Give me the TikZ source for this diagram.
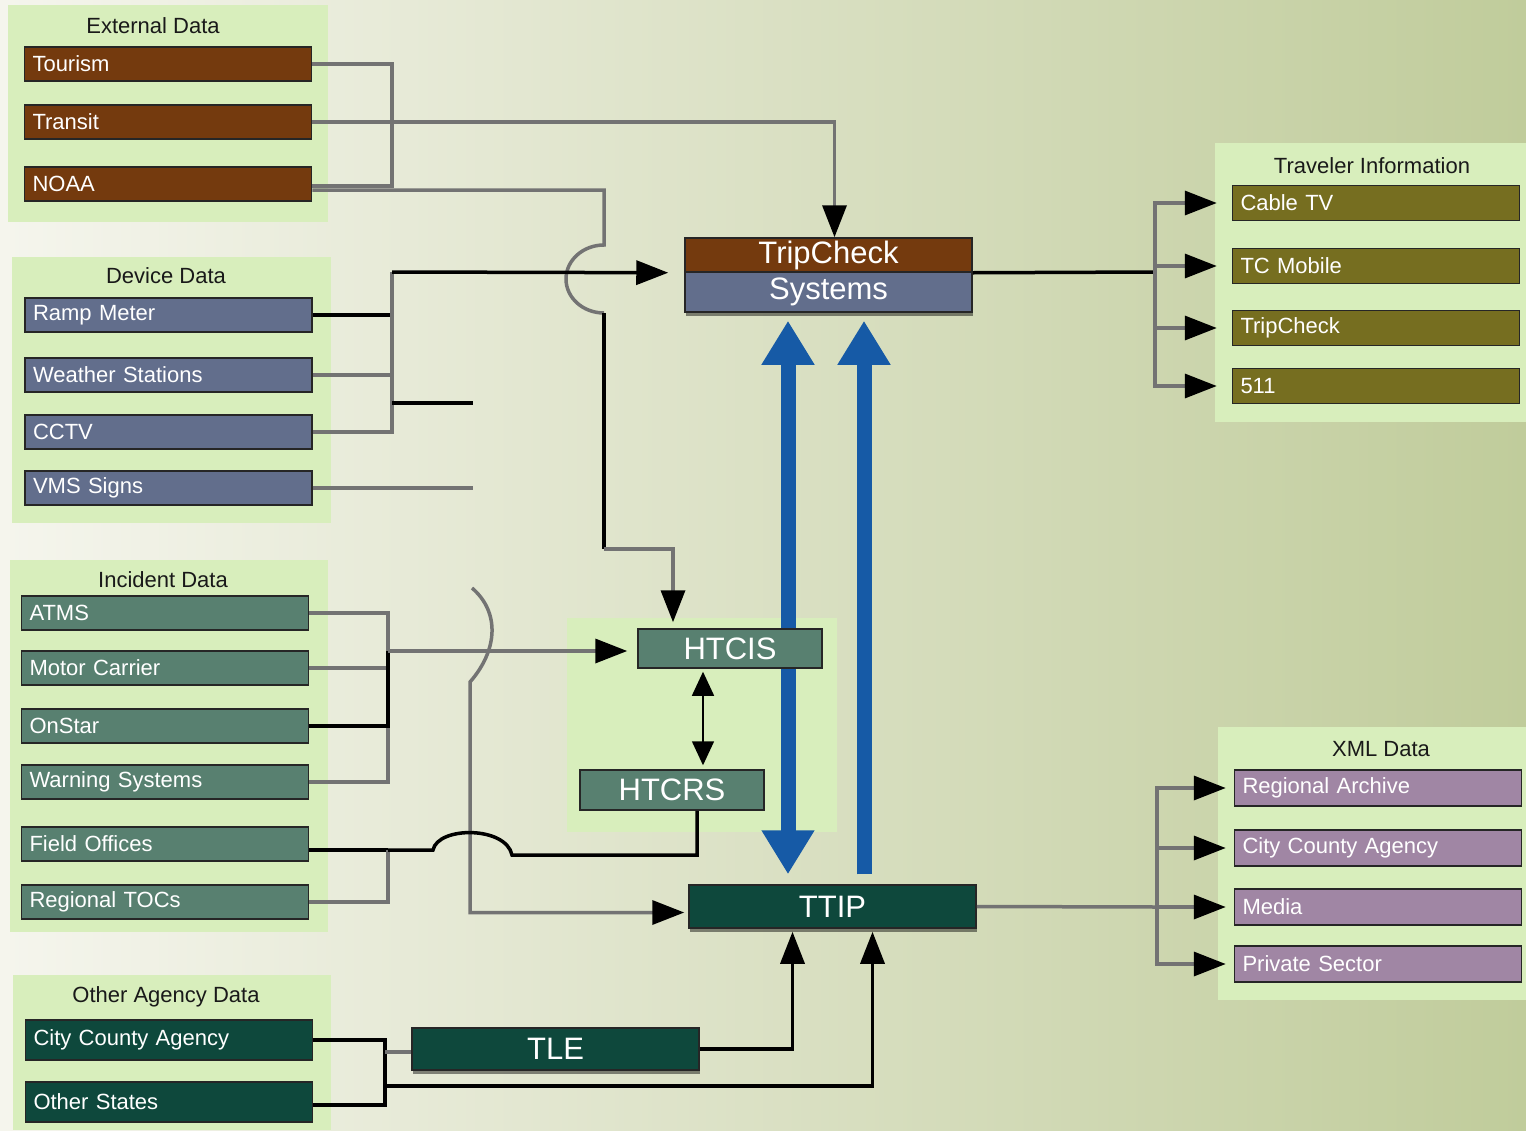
\documentclass[tikz,border=0pt]{standalone}
\usepackage{fontspec}
\setmainfont{Liberation Sans}
\usepackage{tikz}
\usetikzlibrary{arrows.meta,shadows}
\definecolor{bgleft}{RGB}{245,245,237}
\definecolor{bgright}{RGB}{192,204,155}
\definecolor{panelgreen}{RGB}{216,238,188}
\definecolor{brownbox}{RGB}{116,58,14}
\definecolor{slatebox}{RGB}{98,110,140}
\definecolor{tealbox}{RGB}{88,128,112}
\definecolor{darkbox}{RGB}{14,72,60}
\definecolor{olivebox}{RGB}{118,110,32}
\definecolor{mauvebox}{RGB}{160,134,164}
\definecolor{flowblue}{RGB}{22,90,166}
\tikzstyle{panel}=[
        fill=panelgreen
]
\tikzstyle{title}=[
        text=black!90,
        font=\fontsize{22}{24}\selectfont
]
\tikzstyle{item}=[
        draw=black!85,
        line width=1.5pt,
        text=white,
        font=\fontsize{22}{24}\selectfont,
        minimum height=34pt,
        text width=271pt,
        inner xsep=8pt,
        inner ysep=0pt,
        align=left
]
\tikzstyle{core}=[
        draw=black!85,
        line width=1.5pt,
        text=white,
        font=\fontsize{31}{33}\selectfont,
        minimum width=287pt,
        inner sep=0pt
]
\tikzstyle{lifted}=[
        drop shadow={shadow xshift=1pt,shadow yshift=-4pt,fill=black,opacity=0.45}
]
\tikzstyle{wire}=[
        draw=black!55,
        line width=3.5pt
]
\tikzstyle{darkwire}=[
        draw=black,
        line width=3.5pt
]
\tikzstyle{arr}=[
        -{Triangle[length=32pt,width=24pt,color=black]}
]
\tikzstyle{bluearrow}=[
        draw=flowblue,
        line width=15pt
]

\begin{document}
\begin{tikzpicture}[x=1pt,y=-1pt]
                        \shade[left color=bgleft,right color=bgright] (0,0) rectangle (1526,1130);

                        % group panels
                        \fill[panel] (8,5) rectangle (328,222);
                        \fill[panel] (12,257) rectangle (331,523);
                        \fill[panel] (10,560) rectangle (328,932);
                        \fill[panel] (13,975) rectangle (331,1130);
                        \fill[panel] (1215,143) rectangle (1526,422);
                        \fill[panel] (1218,727) rectangle (1526,1000);
                        \fill[panel] (567,618) rectangle (837,832);

                        \node[title] (exttitle) at (153,26) {External Data};
                        \node[title] (devtitle) at (166,276) {Device Data};
                        \node[title] (inctitle) at (163,580) {Incident Data};
                        \node[title] (othtitle) at (166,997) {Other Agency Data};
                        \node[title] (travtitle) at (1372,166) {Traveler Information};
                        \node[title] (xmltitle) at (1381,749) {XML Data};

                        \foreach \n/\y/\t in {tourism/64/Tourism, transit/122/Transit, noaa/184/NOAA} {
                            \node[item,fill=brownbox] (\n) at (168,\y) {\t};
                        }
                        \foreach \n/\y/\t in {ramp/315/Ramp Meter, weather/375/Weather Stations, cctv/432/CCTV, vms/488/VMS Signs} {
                            \node[item,fill=slatebox] (\n) at (168.5,\y) {\t};
                        }
                        \foreach \n/\y/\t in {atms/613/ATMS, motor/668/Motor Carrier, onstar/726/OnStar, warning/782/Warning Systems, field/844/Field Offices, regional/902/Regional TOCs} {
                            \node[item,fill=tealbox] (\n) at (165,\y) {\t};
                        }
                        \foreach \n/\y/\t in {city/1040/City County Agency, others/1102/Other States} {
                            \node[item,fill=darkbox,minimum height=40pt] (\n) at (169,\y) {\t};
                        }
                        \foreach \n/\y/\t in {cabletv/203/Cable TV, tcmobile/266/TC Mobile, tcsite/328/TripCheck, fiveeleven/386/511} {
                            \node[item,fill=olivebox,minimum height=35pt] (\n) at (1376,\y) {\t};
                        }
                        \foreach \n/\y/\t in {archive/788/Regional Archive, agency/848/City County Agency, media/907/Media, private/964/Private Sector} {
                            \node[item,fill=mauvebox,minimum height=36pt] (\n) at (1378,\y) {\t};
                        }

                        \node[core,lifted,fill=brownbox,minimum height=34pt] (tripcheck) at (828.5,255) {TripCheck};
                        \node[core,lifted,fill=slatebox,minimum height=40pt] (systems) at (828.5,292) {Systems};
                        \node[core,lifted,fill=darkbox,minimum height=43pt] (ttip) at (832.5,906.5) {TTIP};
                        \node[core,lifted,fill=darkbox,minimum height=42pt] (tle) at (555.5,1049) {TLE};

                        \draw[bluearrow,{Triangle[length=44pt,width=50pt]}-{Triangle[length=44pt,width=50pt]},shorten <=8pt,shorten >=10pt]
                            ([xshift=-40.5pt]systems.south) -- ([xshift=-44.5pt]ttip.north);
                        \draw[bluearrow,-{Triangle[length=44pt,width=50pt]},shorten <=10pt,shorten >=8pt]
                            ([xshift=31.5pt]ttip.north) -- ([xshift=35.5pt]systems.south);

                        \node[core,fill=tealbox,minimum width=184pt,minimum height=39pt] (htcis) at (730,648.5) {HTCIS};
                        \node[core,fill=tealbox,minimum width=184pt,minimum height=40pt] (htcrs) at (672,790) {HTCRS};

                        % external data
                        \coordinate (extbus) at (392,124);
                        \draw[wire] (tourism.east) -| (extbus);
                        \draw[wire] ([yshift=-2pt]noaa.east) -| (extbus);
                        \draw[wire,arr] (transit.east) -| ([xshift=6pt]tripcheck.north);
                        \coordinate (noaaturn) at (604,245);
                        \draw[wire] ([yshift=-6pt]noaa.east) -| (noaaturn)
                            arc[start angle=90,end angle=270,x radius=38pt,y radius=34pt] coordinate (noaaleave);
                        \draw[darkwire] (noaaleave) -- ++(0,236) coordinate (noaabend);
                        \draw[wire,arr,shorten >=6pt] (noaabend) -| ([xshift=-57pt]htcis.north);

                        % device data
                        \coordinate (devtop) at (392,272);
                        \coordinate (devstub) at (473,403);
                        \draw[darkwire] (ramp.east) -| (devtop);
                        \draw[wire] (weather.east) -| (devtop);
                        \draw[wire] (cctv.east) -| (devtop);
                        \draw[darkwire,arr,shorten >=16pt] (devtop) -- (tripcheck.south west);
                        \draw[darkwire] (devstub -| devtop) -- (devstub);
                        \draw[wire] (vms.east) -- (vms.east -| devstub);

                        % incident data
                        \coordinate (incbus) at (388,651);
                        \foreach \n in {atms,motor,warning} {
                            \draw[wire] (\n.east) -| (incbus);
                        }
                        \draw[darkwire] (onstar.east) -| (incbus);
                        \draw[wire,arr,shorten >=10pt] (incbus) -- (incbus -| htcis.west);
                        \coordinate (looseend) at (472,588);
                        \draw[wire,arr,shorten >=4pt] (looseend) .. controls (500,612) and (498,650) .. (470,682)
                            |- ([yshift=-6pt]ttip.west);
                        \coordinate (fieldbus) at (388,850);
                        \coordinate (hopstart) at (433,850);
                        \coordinate (hopend) at (512,855);
                        \draw[darkwire] ([yshift=-6pt]field.east) -- (fieldbus);
                        \draw[wire] (regional.east) -| (fieldbus);
                        \draw[darkwire] (fieldbus) -- (hopstart) .. controls (438,826) and (506,826) .. (hopend)
                            -| ([xshift=25pt]htcrs.south);
                        \draw[black,line width=1.5pt,{Triangle[length=24pt,width=22pt]}-{Triangle[length=24pt,width=22pt]},shorten <=3pt,shorten >=4pt]
                            ([xshift=-27pt]htcis.south) -- ([xshift=31pt]htcrs.north);

                        % other agency data
                        \coordinate (othbus) at (385,1052);
                        \coordinate (othlow) at (385,1086);
                        \draw[darkwire] (city.east) -| (othlow);
                        \draw[darkwire] ([yshift=-3pt]others.east) -| (othlow);
                        \draw[wire] (othbus) -- (othbus -| tle.west);
                        \draw[darkwire,arr,shorten >=3pt] (tle.east) -| ([xshift=-40pt]ttip.south);
                        \draw[darkwire,arr,shorten >=3pt] (othlow) -| ([xshift=40pt]ttip.south);

                        % outputs
                        \coordinate (travbus) at (1155,272);
                        \draw[darkwire] (tripcheck.south east) -- (travbus);
                        \foreach \n in {cabletv,tcmobile,tcsite,fiveeleven} {
                            \draw[wire,arr,shorten >=15pt] (travbus) |- (\n.west);
                        }
                        \coordinate (xmlbus) at (1157,907);
                        \draw[wire] (ttip.east) -- (xmlbus);
                        \foreach \n in {archive,agency,media,private} {
                            \draw[wire,arr,shorten >=8pt] (xmlbus) |- (\n.west);
                        }
                    \end{tikzpicture}
\end{document}
